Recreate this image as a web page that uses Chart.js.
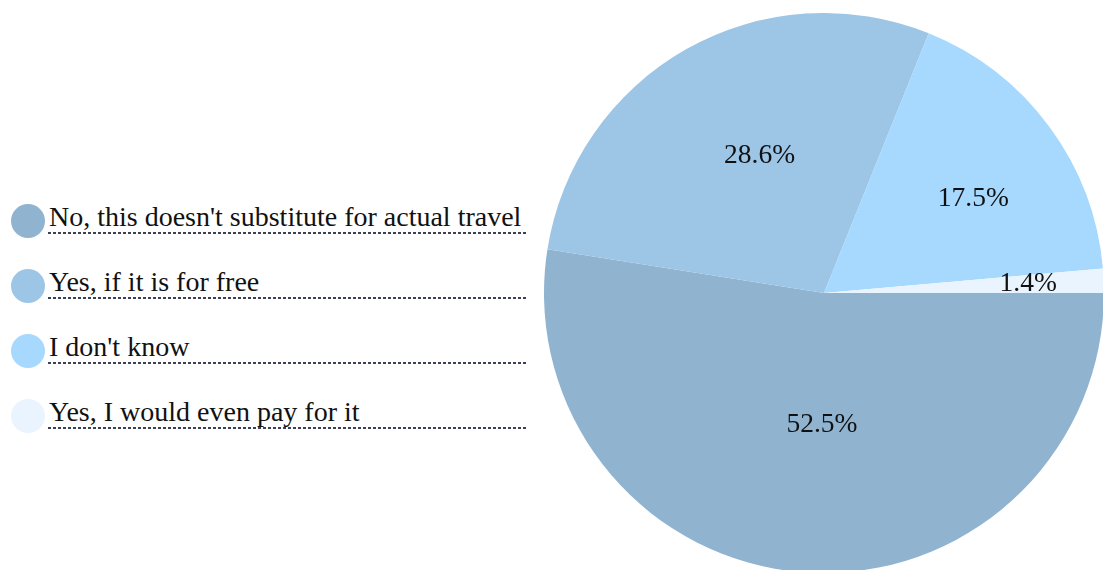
<!DOCTYPE html>
<html>
<head>
<meta charset="utf-8">
<script src="https://cdn.jsdelivr.net/npm/chart.js@4/dist/chart.umd.min.js"></script>
<style>
  html, body { margin: 0; padding: 0; background: #fff; overflow: hidden; }
  body { width: 1103px; height: 570px; position: relative; font-family: "Liberation Serif", "Times New Roman", serif; }
  #pieBox { position: absolute; left: 544px; top: 13px; width: 560px; height: 560px; }
  #legend { position: absolute; left: 0; top: 0; }
  .row { position: absolute; left: 11px; height: 34px; }
  .dot { position: absolute; left: 0; top: 0; width: 34px; height: 34px; border-radius: 50%; }
  .txt { position: absolute; left: 38px; top: -2px; width: 479px; height: 32px; font-size: 28px; line-height: 30px;
         color: #111; white-space: nowrap; }
  .txt::after { content: ""; position: absolute; left: -1px; right: 0; top: 30px; height: 2px;
                background: repeating-linear-gradient(to right, #3c4156 0 3px, transparent 3px 5px); }
</style>
</head>
<body>
<div id="legend"></div>
<div id="pieBox"><canvas id="pieChart" width="560" height="560"></canvas></div>
<script>
Chart.defaults.animation = false;

// ---- data ----
const answers = [
  "No, this doesn't substitute for actual travel",
  "Yes, if it is for free",
  "I don't know",
  "Yes, I would even pay for it"
];
const shares = [52.5, 28.6, 17.5, 1.4];
const sliceColors = ["#90b3d0", "#9cc5e6", "#a7d8fe", "#eaf4fe"];

// ---- legend (left side) ----
const legendBox = document.getElementById("legend");
answers.forEach((name, i) => {
  const row = document.createElement("div");
  row.className = "row";
  row.style.top = (203.5 + i * 65.2) + "px";
  const dot = document.createElement("div");
  dot.className = "dot";
  dot.style.background = sliceColors[i];
  const txt = document.createElement("div");
  txt.className = "txt";
  txt.textContent = name;
  row.appendChild(dot);
  row.appendChild(txt);
  legendBox.appendChild(row);
});

// percentage text inside each slice
const sliceLabels = {
  id: "sliceLabels",
  afterDatasetsDraw(chart, args, opts) {
    const ctx = chart.ctx;
    const meta = chart.getDatasetMeta(0);
    ctx.save();
    ctx.font = "27.5px 'Liberation Serif', serif";
    ctx.fillStyle = "#111";
    ctx.textAlign = "center";
    ctx.textBaseline = "middle";
    meta.data.forEach((arc, i) => {
      const mid = (arc.startAngle + arc.endAngle) / 2 + opts.shift[i] * Math.PI / 180;
      const r = arc.outerRadius * opts.dist[i];
      const x = arc.x + Math.cos(mid) * r;
      const y = arc.y + Math.sin(mid) * r;
      ctx.fillText(shares[i].toFixed(1) + "%", x, y);
    });
    ctx.restore();
  }
};

new Chart(document.getElementById("pieChart"), {
  type: "pie",
  data: {
    labels: answers,
    datasets: [{
      data: shares,
      backgroundColor: sliceColors,
      borderWidth: 0,
      hoverOffset: 0
    }]
  },
  options: {
    responsive: false,
    rotation: 90,
    radius: 280,
    events: [],
    layout: { padding: 0 },
    plugins: {
      legend: { display: false },
      tooltip: { enabled: false },
      sliceLabels: {
        dist: [0.47, 0.54, 0.63, 0.73],
        shift: [-3.6, 4.3, 4.4, 0]
      }
    }
  },
  plugins: [sliceLabels]
});
</script>
</body>
</html>
